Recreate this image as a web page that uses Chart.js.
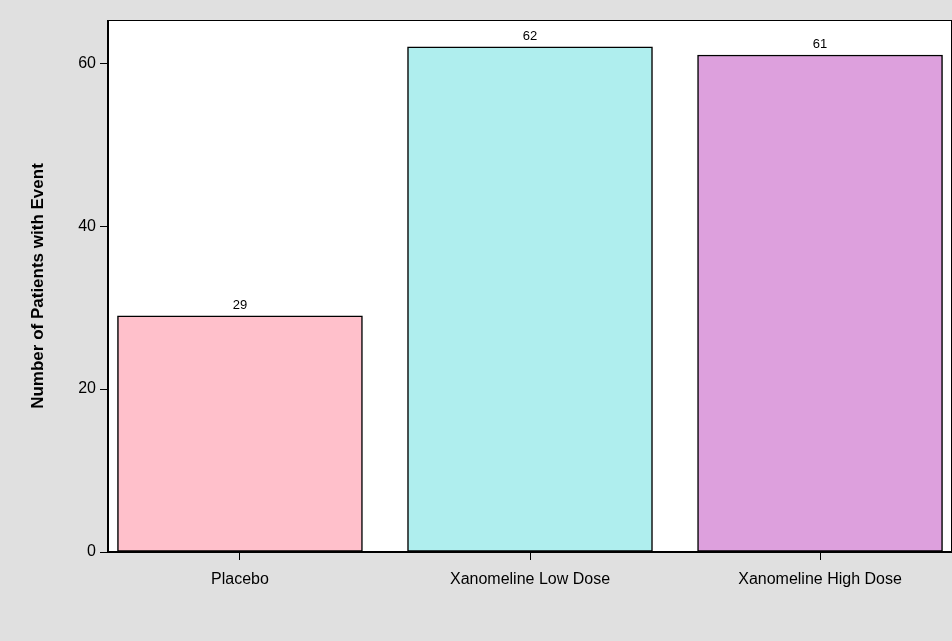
<!DOCTYPE html>
<html><head><meta charset="utf-8">
<script src="https://cdn.jsdelivr.net/npm/chart.js@4"></script>
<style>html,body{margin:0;padding:0;background:#e0e0e0}#w{width:952px;height:641px}</style>
</head><body><div id="w"><canvas id="c"></canvas></div>
<script>
const categories = ["Placebo", "Xanomeline Low Dose", "Xanomeline High Dose"];
const counts = [29, 62, 61];
const barColors = ["#FFC0CB", "#AFEEEE", "#DDA0DD"];
const yTicks = [0, 20, 40, 60];

const bgPlugin = {
  id: 'bg',
  beforeDraw(ch) {
    const c = ch.ctx, a = ch.chartArea;
    c.save();
    c.fillStyle = '#e0e0e0'; c.fillRect(0, 0, ch.width, ch.height);
    c.fillStyle = '#ffffff'; c.fillRect(a.left, a.top, a.right - a.left, a.bottom - a.top);
    c.restore();
  },
  afterDraw(ch) {
    const c = ch.ctx, a = ch.chartArea;
    c.save();
    c.strokeStyle = '#000'; c.lineWidth = 1;
    c.strokeRect(a.left + 0.5, a.top + 0.5, a.right - a.left - 1, a.bottom - a.top);
    c.lineWidth = 2;
    c.beginPath(); c.moveTo(a.left, a.top); c.lineTo(a.left, a.bottom); c.lineTo(a.right, a.bottom); c.stroke();
    c.fillStyle = '#000'; c.font = '13px "Liberation Sans", Arial'; c.textAlign = 'center'; c.textBaseline = 'bottom';
    const meta = ch.getDatasetMeta(0);
    meta.data.forEach((el, i) => c.fillText(String(counts[i]), el.x, el.y - 4));
    c.restore();
  }
};

new Chart(document.getElementById('c'), {
  type: 'bar',
  data: {
    datasets: [{
      data: counts.map((v, i) => ({ x: i, y: v })),
      backgroundColor: barColors,
      borderColor: '#000',
      borderWidth: 1.5,
      borderSkipped: false,
      barThickness: 245
    }]
  },
  plugins: [bgPlugin],
  options: {
    responsive: true, maintainAspectRatio: false, animation: false,
    layout: { padding: { top: 20, right: 0, left: 28, bottom: 0 } },
    plugins: { legend: { display: false }, tooltip: { enabled: false } },
    scales: {
      x: {
        type: 'linear', min: -0.455, max: 2.455, offset: false,
        afterBuildTicks: s => { s.ticks = categories.map((_, i) => ({ value: i })); },
        afterFit: s => { s.height = 89; },
        grid: { display: true, offset: false, drawOnChartArea: false, drawTicks: true, tickLength: 8, color: '#000', tickColor: '#000' },
        border: { display: false },
        ticks: { callback: (v, i) => categories[i], color: '#000', padding: 10, maxRotation: 0, autoSkip: false,
                 font: { family: '"Liberation Sans", Arial', size: 16 } }
      },
      y: {
        min: 0, max: 65.3,
        afterBuildTicks: s => { s.ticks = yTicks.map(v => ({ value: v })); },
        afterFit: s => { s.width = 80; },
        grid: { display: true, drawOnChartArea: false, tickLength: 8, color: '#000', tickColor: '#000' },
        border: { display: false },
        ticks: { color: '#000', padding: 4, font: { family: '"Liberation Sans", Arial', size: 16 } },
        title: { display: true, text: 'Number of Patients with Event', color: '#000', padding: { top: 0, bottom: 10 },
                 font: { family: '"Liberation Sans", Arial', size: 17, weight: 'bold' } }
      }
    }
  }
});
</script></body></html>
